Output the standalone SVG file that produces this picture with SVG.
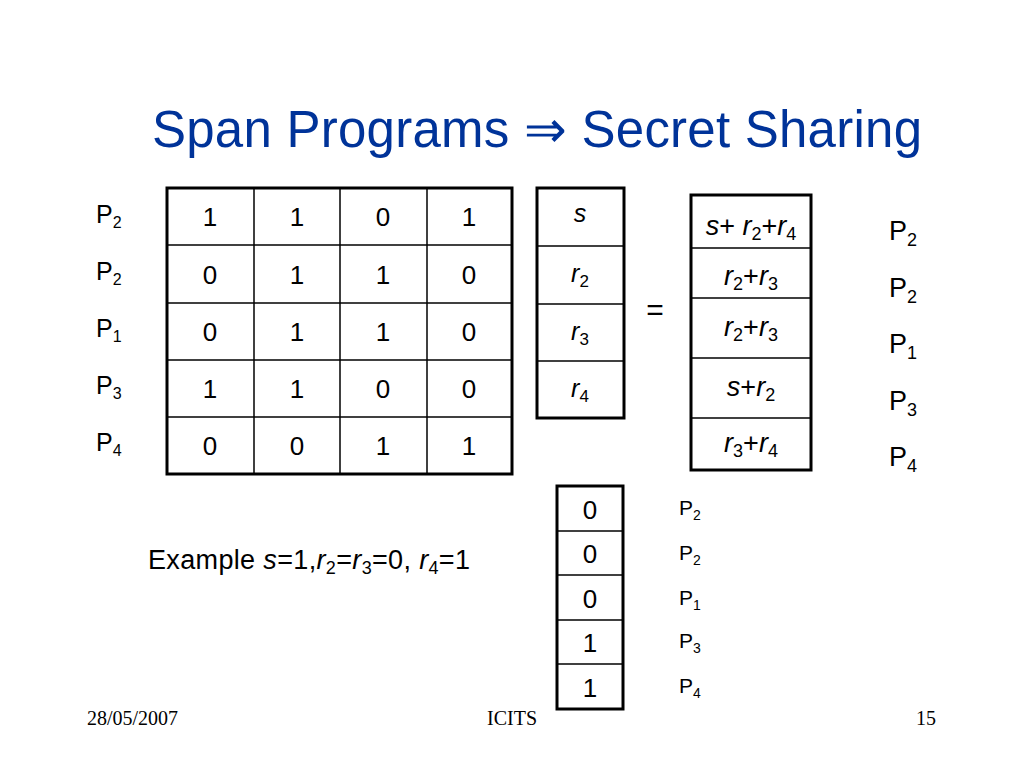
<svg xmlns="http://www.w3.org/2000/svg" width="1024" height="768" viewBox="0 0 1024 768">
<style>
text{font-family:"Liberation Sans",Arial,sans-serif;fill:#000}
.title{font-size:51px;fill:#003399}
.cell{font-size:26px;text-anchor:middle}
.var{font-size:25px;text-anchor:middle}
.res{font-size:27px;text-anchor:middle}
.pl{font-size:25px}
.pr{font-size:27px}
.pb{font-size:21px}
.ex{font-size:27px}
.foot{font-family:"Liberation Serif","Times New Roman",serif;font-size:20px}
.thick{fill:none;stroke:#000;stroke-width:3}
.thin{stroke:#000;stroke-width:1.5}
.it{font-style:italic}
</style>
<rect width="1024" height="768" fill="#fff"/>
<text class="title" x="152" y="147" textLength="770" lengthAdjust="spacing">Span Programs ⇒ Secret Sharing</text>

<g id="matrix">
<rect class="thick" x="167" y="188" width="345" height="286"/>
<line class="thin" x1="254" y1="188" x2="254" y2="474"/>
<line class="thin" x1="340" y1="188" x2="340" y2="474"/>
<line class="thin" x1="427" y1="188" x2="427" y2="474"/>
<line class="thin" x1="167" y1="245" x2="512" y2="245"/>
<line class="thin" x1="167" y1="303" x2="512" y2="303"/>
<line class="thin" x1="167" y1="360" x2="512" y2="360"/>
<line class="thin" x1="167" y1="417" x2="512" y2="417"/>
<text class="cell" x="210" y="226">1</text><text class="cell" x="297" y="226">1</text><text class="cell" x="383" y="226">0</text><text class="cell" x="469" y="226">1</text>
<text class="cell" x="210" y="284">0</text><text class="cell" x="297" y="284">1</text><text class="cell" x="383" y="284">1</text><text class="cell" x="469" y="284">0</text>
<text class="cell" x="210" y="341">0</text><text class="cell" x="297" y="341">1</text><text class="cell" x="383" y="341">1</text><text class="cell" x="469" y="341">0</text>
<text class="cell" x="210" y="398">1</text><text class="cell" x="297" y="398">1</text><text class="cell" x="383" y="398">0</text><text class="cell" x="469" y="398">0</text>
<text class="cell" x="210" y="455">0</text><text class="cell" x="297" y="455">0</text><text class="cell" x="383" y="455">1</text><text class="cell" x="469" y="455">1</text>
</g>

<g id="left-labels">
<text class="pl" x="96" y="223">P<tspan font-size="16" dy="5">2</tspan></text>
<text class="pl" x="96" y="280">P<tspan font-size="16" dy="5">2</tspan></text>
<text class="pl" x="96" y="337">P<tspan font-size="16" dy="5">1</tspan></text>
<text class="pl" x="96" y="394">P<tspan font-size="16" dy="5">3</tspan></text>
<text class="pl" x="96" y="451">P<tspan font-size="16" dy="5">4</tspan></text>
</g>

<g id="vector">
<rect class="thick" x="537" y="188" width="87" height="230"/>
<line class="thin" x1="537" y1="246" x2="624" y2="246"/>
<line class="thin" x1="537" y1="304" x2="624" y2="304"/>
<line class="thin" x1="537" y1="361" x2="624" y2="361"/>
<text class="var it" x="580" y="222">s</text>
<text class="var" x="580" y="282"><tspan class="it">r</tspan><tspan font-size="17" dy="5">2</tspan></text>
<text class="var" x="580" y="340"><tspan class="it">r</tspan><tspan font-size="17" dy="5">3</tspan></text>
<text class="var" x="580" y="397"><tspan class="it">r</tspan><tspan font-size="17" dy="5">4</tspan></text>
</g>

<g id="equals">
<text x="655" y="320" font-size="30" text-anchor="middle">=</text>
</g>

<g id="result">
<rect class="thick" x="691" y="195" width="120" height="275"/>
<line class="thin" x1="691" y1="248" x2="811" y2="248"/>
<line class="thin" x1="691" y1="298" x2="811" y2="298"/>
<line class="thin" x1="691" y1="358" x2="811" y2="358"/>
<line class="thin" x1="691" y1="418" x2="811" y2="418"/>
<text class="res" x="751" y="235"><tspan class="it">s</tspan>+ <tspan class="it">r</tspan><tspan font-size="18" dy="5">2</tspan><tspan dy="-5">+</tspan><tspan class="it">r</tspan><tspan font-size="18" dy="5">4</tspan></text>
<text class="res" x="751" y="285"><tspan class="it">r</tspan><tspan font-size="18" dy="5">2</tspan><tspan dy="-5">+</tspan><tspan class="it">r</tspan><tspan font-size="18" dy="5">3</tspan></text>
<text class="res" x="751" y="336"><tspan class="it">r</tspan><tspan font-size="18" dy="5">2</tspan><tspan dy="-5">+</tspan><tspan class="it">r</tspan><tspan font-size="18" dy="5">3</tspan></text>
<text class="res" x="751" y="396"><tspan class="it">s</tspan>+<tspan class="it">r</tspan><tspan font-size="18" dy="5">2</tspan></text>
<text class="res" x="751" y="452"><tspan class="it">r</tspan><tspan font-size="18" dy="5">3</tspan><tspan dy="-5">+</tspan><tspan class="it">r</tspan><tspan font-size="18" dy="5">4</tspan></text>
</g>

<g id="right-labels">
<text class="pr" x="889" y="240">P<tspan font-size="18" dy="6">2</tspan></text>
<text class="pr" x="889" y="297">P<tspan font-size="18" dy="6">2</tspan></text>
<text class="pr" x="889" y="353">P<tspan font-size="18" dy="6">1</tspan></text>
<text class="pr" x="889" y="410">P<tspan font-size="18" dy="6">3</tspan></text>
<text class="pr" x="889" y="466">P<tspan font-size="18" dy="6">4</tspan></text>
</g>

<g id="example">
<text class="ex" x="148" y="569" textLength="322" lengthAdjust="spacing">Example <tspan class="it">s</tspan>=1,<tspan class="it">r</tspan><tspan font-size="18" dy="5">2</tspan><tspan dy="-5">=</tspan><tspan class="it">r</tspan><tspan font-size="18" dy="5">3</tspan><tspan dy="-5">=0, </tspan><tspan class="it">r</tspan><tspan font-size="18" dy="5">4</tspan><tspan dy="-5">=1</tspan></text>
</g>

<g id="shares">
<rect class="thick" x="557" y="486" width="66" height="223"/>
<line class="thin" x1="557" y1="531" x2="623" y2="531"/>
<line class="thin" x1="557" y1="575" x2="623" y2="575"/>
<line class="thin" x1="557" y1="620" x2="623" y2="620"/>
<line class="thin" x1="557" y1="664" x2="623" y2="664"/>
<text class="cell" font-size="24" x="590" y="519">0</text>
<text class="cell" font-size="24" x="590" y="563">0</text>
<text class="cell" font-size="24" x="590" y="608">0</text>
<text class="cell" font-size="24" x="590" y="652">1</text>
<text class="cell" font-size="24" x="590" y="697">1</text>
</g>

<g id="share-labels">
<text class="pb" x="679" y="515">P<tspan font-size="14" dy="5">2</tspan></text>
<text class="pb" x="679" y="560">P<tspan font-size="14" dy="5">2</tspan></text>
<text class="pb" x="679" y="605">P<tspan font-size="14" dy="5">1</tspan></text>
<text class="pb" x="679" y="648">P<tspan font-size="14" dy="5">3</tspan></text>
<text class="pb" x="679" y="693">P<tspan font-size="14" dy="5">4</tspan></text>
</g>

<g id="footer">
<text class="foot" x="87" y="725">28/05/2007</text>
<text class="foot" x="487" y="725">ICITS</text>
<text class="foot" x="936" y="725" text-anchor="end">15</text>
</g>
</svg>
